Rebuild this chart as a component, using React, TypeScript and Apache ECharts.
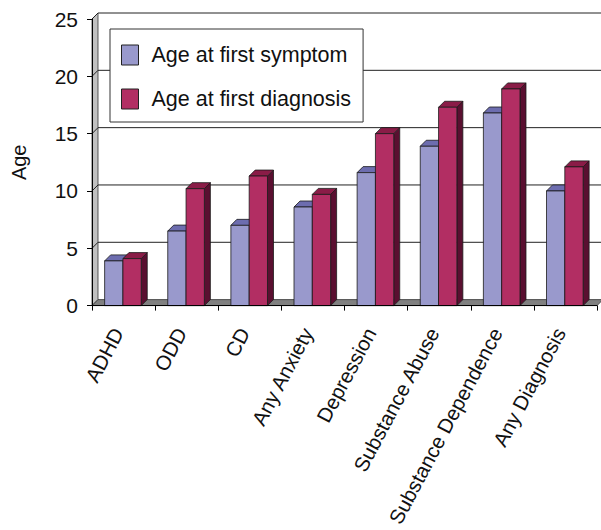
import React, { useEffect, useRef } from "react";
import * as echarts from "echarts";

const categories = [
  "ADHD",
  "ODD",
  "CD",
  "Any Anxiety",
  "Depression",
  "Substance Abuse",
  "Substance Dependence",
  "Any Diagnosis",
];
const firstSymptom = [3.9, 6.5, 7.0, 8.6, 11.6, 13.9, 16.8, 10.0];
const firstDiagnosis = [4.1, 10.2, 11.3, 9.7, 15.0, 17.3, 18.9, 12.1];
const yTicks = [0, 5, 10, 15, 20, 25];

const FONT = "'Liberation Sans', Arial, Helvetica, sans-serif";
const D = 6;

function barRenderer(offsetStart: number, offsetEnd: number, front: string, top: string, side: string) {
  return (params: any, api: any) => {
    const cat = api.value(0);
    const val = api.value(1);
    const band = api.size([1, 0])[0];
    const c = api.coord([cat, val]);
    const b = api.coord([cat, 0]);
    const x1 = c[0] + band * offsetStart;
    const x2 = c[0] + band * offsetEnd;
    const yt = c[1];
    const yb = b[1];
    const stroke = { stroke: "#1a1a1a", lineWidth: 0.8, lineJoin: "round" };
    return {
      type: "group",
      children: [
        {
          type: "polygon",
          shape: { points: [[x2, yt], [x2 + D, yt - D], [x2 + D, yb - D], [x2, yb]] },
          style: { fill: side, ...stroke },
        },
        {
          type: "polygon",
          shape: { points: [[x1, yt], [x2, yt], [x2 + D, yt - D], [x1 + D, yt - D]] },
          style: { fill: top, ...stroke },
        },
        {
          type: "rect",
          shape: { x: x1, y: yt, width: x2 - x1, height: yb - yt },
          style: { fill: front, ...stroke },
        },
      ],
    };
  };
}

function wallRenderer(params: any, api: any) {
  const v = api.value(0);
  const n = categories.length;
  const left = api.coord([0, v]);
  const band = api.size([1, 0])[0];
  const x0 = left[0] - band / 2;
  const xEnd = x0 + band * n;
  const y = left[1];
  const children: any[] = [];
  if (v === 0) {
    const yTop = api.coord([0, 25])[1];
    children.push({
      type: "polygon",
      shape: { points: [[x0, y], [x0 + D, y - D], [x0 + D, yTop - D], [x0, yTop]] },
      style: { fill: "#c0c0c0", stroke: "#333", lineWidth: 0.8 },
    });
    children.push({
      type: "polygon",
      shape: { points: [[x0, y], [xEnd, y], [xEnd + D, y - D], [x0 + D, y - D]] },
      style: { fill: "#808080", stroke: "#333", lineWidth: 0.8 },
    });
  } else {
    children.push({
      type: "polyline",
      shape: { points: [[x0, y], [x0 + D, y - D], [xEnd + D, y - D]] },
      style: { stroke: "#222", lineWidth: 1, fill: null },
    });
  }
  return { type: "group", children };
}

export default function App() {
  const ref = useRef<HTMLDivElement>(null);
  useEffect(() => {
    document.body.style.margin = "0";
    if (!ref.current) return;
    const chart = echarts.init(ref.current, undefined, { renderer: "svg" });
    chart.setOption({
      animation: false,
      backgroundColor: "#ffffff",
      textStyle: { fontFamily: FONT },
      grid: { left: 92, right: 4, top: 19, bottom: 222, containLabel: false },
      legend: {
        orient: "vertical",
        left: 110,
        top: 29,
        backgroundColor: "#ffffff",
        borderColor: "#333333",
        borderWidth: 1,
        padding: [15, 12, 12, 11],
        itemGap: 22,
        itemWidth: 17,
        itemHeight: 20,
        icon: "rect",
        itemStyle: { borderColor: "#222", borderWidth: 1 },
        textStyle: { fontSize: 21.5, color: "#111", fontFamily: FONT, padding: [0, 0, 0, 8] },
        data: ["Age at first symptom", "Age at first diagnosis"],
      },
      xAxis: {
        type: "category",
        data: categories,
        boundaryGap: true,
        axisLine: { show: true, lineStyle: { color: "#000", width: 1 } },
        axisTick: { show: true, length: 5, lineStyle: { color: "#000" } },
        axisLabel: {
          rotate: 62,
          interval: 0,
          margin: 13,
          fontSize: 20.5,
          color: "#111",
          fontFamily: FONT,
          padding: [0, 12, 0, 0],
        },
        splitLine: { show: false },
        z: 10,
      },
      yAxis: {
        type: "value",
        min: 0,
        max: 25,
        interval: 5,
        name: "Age",
        nameLocation: "middle",
        nameRotate: 90,
        nameGap: 63,
        nameTextStyle: { fontSize: 20, color: "#111", fontFamily: FONT },
        axisLine: { show: true, lineStyle: { color: "#000", width: 1 } },
        axisTick: { show: true, length: 5, lineStyle: { color: "#000" } },
        axisLabel: { fontSize: 21, color: "#111", margin: 14, fontFamily: FONT },
        splitLine: { show: false },
        z: 10,
      },
      series: [
        {
          type: "custom",
          name: "walls",
          renderItem: wallRenderer,
          data: yTicks.map((v) => [v]),
          encode: { y: 0 },
          silent: true,
          z: 1,
        },
        {
          type: "custom",
          name: "Age at first symptom",
          itemStyle: { color: "#9999cc" },
          renderItem: barRenderer(-0.3, -0.01, "#9999cc", "#6d6daf", "#4a4a85"),
          data: firstSymptom.map((v, i) => [i, v]),
          encode: { x: 0, y: 1 },
          z: 2,
        },
        {
          type: "custom",
          name: "Age at first diagnosis",
          itemStyle: { color: "#b22e63" },
          renderItem: barRenderer(-0.01, 0.28, "#b22e63", "#8a1c47", "#5a0f30"),
          data: firstDiagnosis.map((v, i) => [i, v]),
          encode: { x: 0, y: 1 },
          z: 3,
        },
      ],
    });
    return () => chart.dispose();
  }, []);
  return <div ref={ref} style={{ width: 601, height: 530 }} />;
}
